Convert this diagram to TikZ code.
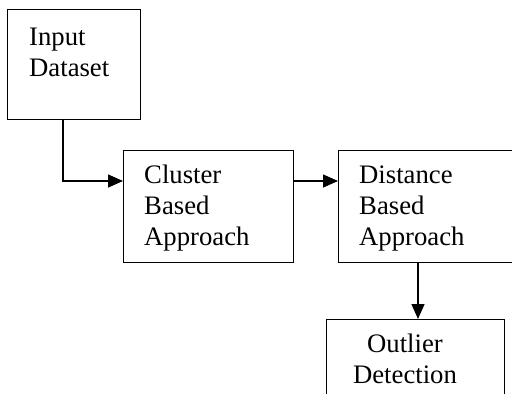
\documentclass[tikz,border=0pt]{standalone}
\usepackage{fontspec}
\setmainfont{Liberation Serif}
\usepackage{tikz}
\usetikzlibrary{positioning,arrows.meta,calc}

\tikzset{
  box/.style={draw, line width=1.3pt, inner sep=0pt, anchor=north west},
  lbl/.style={align=left, anchor=base west, inner sep=0pt, font=\fontsize{26.7}{31}\selectfont},
  flow/.style={-{Triangle[length=15pt,width=13pt]}, line width=1.3pt}
}

\begin{document}
\begin{tikzpicture}[x=1pt,y=-1pt]
\useasboundingbox (0,0) rectangle (512,394);
\clip (0,0) rectangle (512,394);
% boxes
\node[box, minimum width=133, minimum height=110] (input) at (7,9) {};
\node[box, minimum width=170, minimum height=112] (cluster) at (123,150) {};
\node[box, minimum width=195, minimum height=112] (distance) at (338,150) {};
\node[box, minimum width=178, minimum height=100] (outlier) at (326,319) {};
% texts (base = last line)
\node[lbl] (inputtxt) at (29,76) {Input\\Dataset};
\node[lbl] (clustertxt) at (144,245) {Cluster\\Based\\Approach};
\node[lbl] (distancetxt) at (359,245) {Distance\\Based\\Approach};
\node[lbl, align=center, anchor=base] (outliertxt) at (405,383) {Outlier\\Detection};
% arrows
\draw[flow] ([xshift=56]input.south west) |- ([yshift=-31]cluster.north west);
\draw[flow] ([yshift=-31]cluster.north east) -- ([yshift=-31]distance.north west);
\draw[flow] ([xshift=80]distance.south west) -- ([xshift=92]outlier.north west);
\end{tikzpicture}
\end{document}
